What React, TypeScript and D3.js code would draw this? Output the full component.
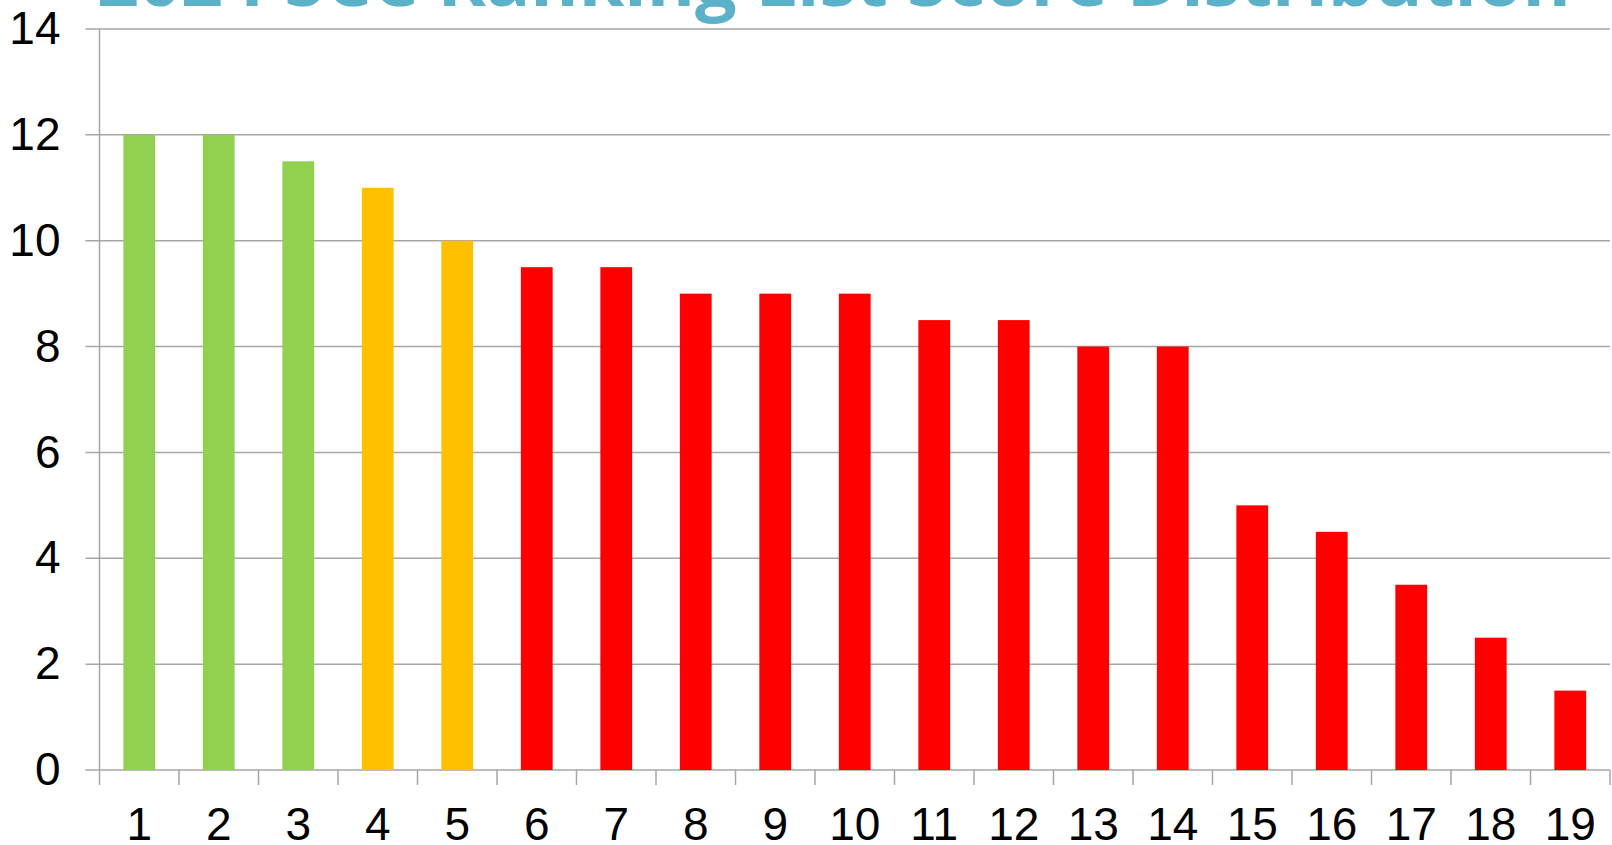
import React from "react";
import * as d3 from "d3";

// chart data
const ranks = ["1", "2", "3", "4", "5", "6", "7", "8", "9", "10", "11", "12", "13", "14", "15", "16", "17", "18", "19"];
const scores = [12, 12, 11.5, 11, 10, 9.5, 9.5, 9, 9, 9, 8.5, 8.5, 8, 8, 5, 4.5, 3.5, 2.5, 1.5];
const tiers = ["green", "green", "green", "orange", "orange", "red", "red", "red", "red", "red", "red", "red", "red", "red", "red", "red", "red", "red", "red"];
const yTicks = [0, 2, 4, 6, 8, 10, 12, 14];
const title = "2024 SCC Ranking List Score Distribution";

const tierColor: Record<string, string> = {
  green: "#92D050",
  orange: "#FFC000",
  red: "#FF0000",
};

export default function App() {
  const W = 1612;
  const H = 845;
  const margin = { top: 29, right: 2, bottom: 75, left: 99.5 };
  const innerW = W - margin.left - margin.right;
  const innerH = H - margin.top - margin.bottom;

  const x = d3.scaleBand().domain(ranks).range([0, innerW]).paddingInner(0.6).paddingOuter(0.3);
  const xb = d3.scaleBand().domain(ranks).range([0, innerW]);
  const y = d3.scaleLinear().domain([0, 14]).range([innerH, 0]);

  const gridColor = "#a6a6a6";
  const font = "'Liberation Sans', Arial, sans-serif";

  return (
    <svg
      width={W}
      height={H}
      style={{ position: "absolute", left: 0, top: 0, background: "#fff" }}
    >
      <text
        x={97}
        y={6}
        fill="#5AB1C8"
        fontFamily="'Open Sans', sans-serif"
        fontWeight={700}
        fontSize={73.5}
      >
        {title}
      </text>
      <g transform={`translate(${margin.left},${margin.top})`}>
        {/* gridlines */}
        {yTicks.map((t) => (
          <line
            key={"g" + t}
            x1={-14}
            x2={innerW}
            y1={y(t)}
            y2={y(t)}
            stroke={gridColor}
            strokeWidth={1.5}
          />
        ))}
        {/* y axis line */}
        <line x1={0} x2={0} y1={0} y2={innerH + 15} stroke={gridColor} strokeWidth={1.5} />
        {/* x ticks */}
        {ranks.map((r) => (
          <line
            key={"t" + r}
            x1={(xb(r) as number) + xb.bandwidth()}
            x2={(xb(r) as number) + xb.bandwidth()}
            y1={innerH}
            y2={innerH + 15}
            stroke={gridColor}
            strokeWidth={1.5}
          />
        ))}
        {/* bars */}
        {scores.map((v, i) => (
          <rect
            key={"b" + i}
            x={x(ranks[i])}
            y={y(v)}
            width={x.bandwidth()}
            height={innerH - y(v)}
            fill={tierColor[tiers[i]]}
          />
        ))}
        {/* y labels */}
        {yTicks.map((t) => (
          <text
            key={"yl" + t}
            x={-39}
            y={y(t)}
            dy="0.33em"
            textAnchor="end"
            fontFamily={font}
            fontSize={46}
            fill="#000"
          >
            {t}
          </text>
        ))}
        {/* x labels */}
        {ranks.map((r) => (
          <text
            key={"xl" + r}
            x={(xb(r) as number) + xb.bandwidth() / 2}
            y={innerH + 70}
            textAnchor="middle"
            fontFamily={font}
            fontSize={46}
            fill="#000"
          >
            {r}
          </text>
        ))}
      </g>
    </svg>
  );
}
